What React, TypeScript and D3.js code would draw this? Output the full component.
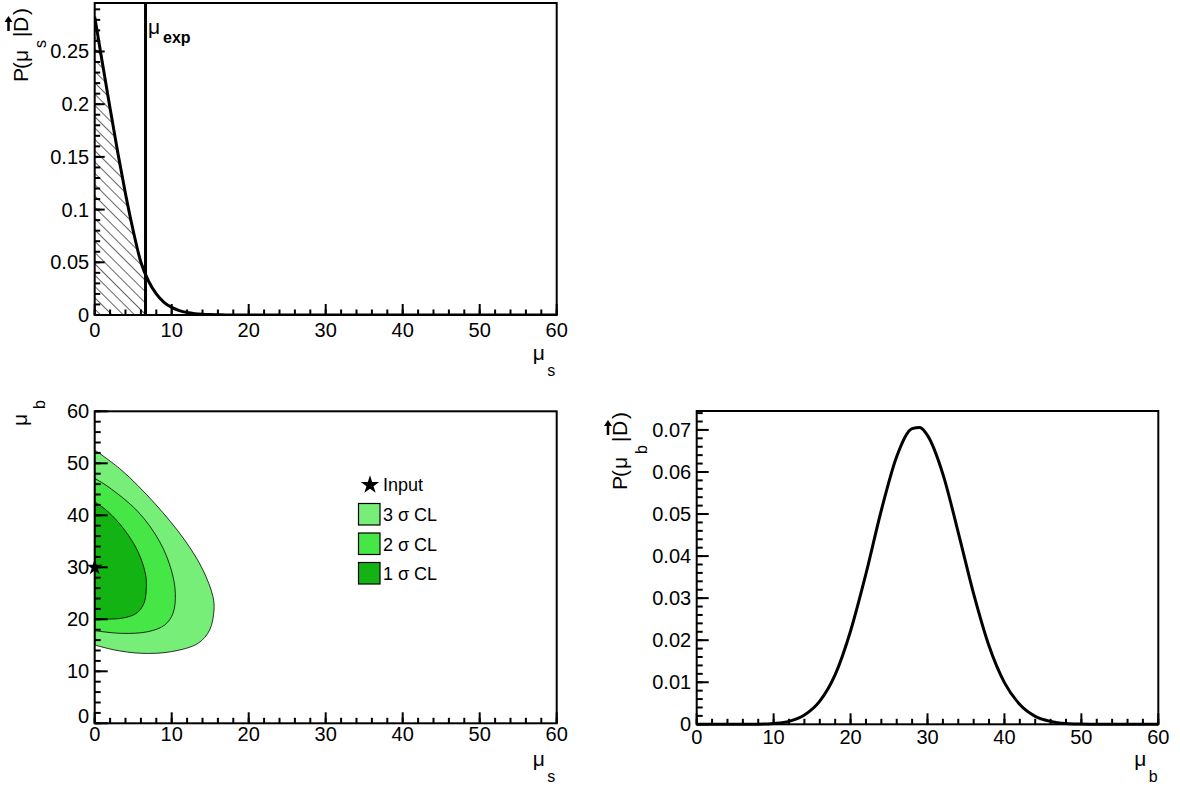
import React from "react";
import * as d3 from "d3";

// ---------- data ----------
const muSGrid = [0, 1, 2, 3, 4, 5, 6, 7, 8, 9, 10, 11, 12, 13, 14, 15, 16, 17, 18, 20, 25, 30, 40, 50, 60];
const postS = [0.283, 0.239, 0.196, 0.154, 0.115, 0.08, 0.05, 0.032, 0.02, 0.012, 0.0072, 0.0042, 0.0024, 0.0013, 0.0007, 0.0004, 0.0002, 0.0001, 0.00005, 0, 0, 0, 0, 0, 0];
const muExp = 6.6;

const muBGrid = [0, 8, 10, 12, 14, 16, 18, 20, 22, 24, 26, 28, 29, 30, 32, 34, 36, 38, 40, 42, 44, 46, 48, 50, 52, 56, 60];
const postB = [0, 0.00003, 0.0002, 0.0007, 0.0022, 0.0055, 0.0118, 0.0222, 0.0358, 0.0509, 0.0637, 0.0703, 0.0706, 0.0687, 0.0595, 0.0456, 0.031, 0.0186, 0.0099, 0.0047, 0.0019, 0.0007, 0.0002, 0.00005, 0, 0, 0];

// contours: [mu_s, mu_b]
const contour3 = [[0, 52.56], [3.46, 48.71], [7.79, 42.3], [11.68, 35.25], [14.06, 29.48], [15.36, 24.35], [15.49, 21.79], [14.93, 17.94], [13.42, 15.38], [9.95, 13.78], [6.06, 13.46], [2.59, 14.1], [0, 15.06]];
const contour2 = [[0, 47.11], [1.73, 45.51], [5.62, 40.7], [8.44, 34.93], [9.95, 29.48], [10.47, 24.99], [10.17, 21.15], [9.09, 18.9], [6.92, 17.62], [3.46, 17.3], [0, 17.81]];
const contour1 = [[0, 42.62], [1.73, 40.7], [3.89, 37.17], [5.62, 33.01], [6.58, 28.84], [6.71, 26.28], [6.4, 23.07], [5.41, 21.15], [3.46, 20.19], [0, 20.06]];
const inputPoint = [0, 30];

const xTickVals = [0, 10, 20, 30, 40, 50, 60];
const xTickLabels = ["0", "10", "20", "30", "40", "50", "60"];
const yTopVals = [0, 0.05, 0.1, 0.15, 0.2, 0.25];
const yTopLabels = ["0", "0.05", "0.1", "0.15", "0.2", "0.25"];
const yBLVals = [0, 10, 20, 30, 40, 50, 60];
const yBLLabels = ["0", "10", "20", "30", "40", "50", "60"];
const yBRVals = [0, 0.01, 0.02, 0.03, 0.04, 0.05, 0.06, 0.07];
const yBRLabels = ["0", "0.01", "0.02", "0.03", "0.04", "0.05", "0.06", "0.07"];

const legendLabels = ["3 σ CL", "2 σ CL", "1 σ CL"];
const legendColors = ["#77ee77", "#47e647", "#12b312"];

const FONT = "'Liberation Sans', Arial, Helvetica, sans-serif";
const FS = 20;

function Axes({ xs, ys, xMinor, yMinor, yVals, yLabels, xLabelDy, yLabelShift0 = 0, yMajLen = 12, yMinLen = 6 }: any) {
  const [x0, x1] = xs.range();
  const [yb, yt] = ys.range();
  return (
    <g>
      {xMinor.map((v: number, i: number) => (
        <line key={"xm" + i} x1={xs(v)} x2={xs(v)} y1={yb} y2={yb - 5.5} stroke="#000" strokeWidth={2} />
      ))}
      {xTickVals.map((v, i) => (
        <line key={"xM" + i} x1={xs(v)} x2={xs(v)} y1={yb} y2={yb - 11} stroke="#000" strokeWidth={2} />
      ))}
      {yMinor.map((v: number, i: number) => (
        <line key={"ym" + i} x1={x0} x2={x0 + yMinLen} y1={ys(v)} y2={ys(v)} stroke="#000" strokeWidth={2} />
      ))}
      {yVals.map((v: number, i: number) => (
        <line key={"yM" + i} x1={x0} x2={x0 + yMajLen} y1={ys(v)} y2={ys(v)} stroke="#000" strokeWidth={2} />
      ))}
      <rect x={x0} y={yt} width={x1 - x0} height={yb - yt} fill="none" stroke="#000" strokeWidth={2} />
      {xTickVals.map((v, i) => (
        <text key={"xl" + i} x={xs(v)} y={yb + xLabelDy} textAnchor="middle" fontFamily={FONT} fontSize={FS}>
          {xTickLabels[i]}
        </text>
      ))}
      {yVals.map((v: number, i: number) => (
        <text key={"yl" + i} x={x0 - 5.5} y={ys(v) + 7 - (i === 0 ? yLabelShift0 : 0)} textAnchor="end" fontFamily={FONT} fontSize={FS}>
          {yLabels[i]}
        </text>
      ))}
    </g>
  );
}

function XTitle({ right, baseline, sub }: any) {
  return (
    <g fontFamily={FONT}>
      <text x={right - 24} y={baseline} fontSize={21}>μ</text>
      <text x={right - 9.5} y={baseline + 16} fontSize={16}>{sub}</text>
    </g>
  );
}

function YTitle({ x, y, sub, o }: any) {
  return (
    <g transform={`translate(${x},${y}) rotate(-90)`} fontFamily={FONT} fontSize={21}>
      <text x={0} y={0}>P</text>
      <text x={o.paren} y={0}>(</text>
      <text x={o.mu} y={0}>μ</text>
      <text x={o.sub} y={o.subDy} fontSize={16}>{sub}</text>
      <text x={o.bar} y={0}>|</text>
      <text x={o.D} y={0}>D</text>
      <text x={o.close} y={0}>)</text>
      <line x1={o.D + 1} x2={o.D + 11} y1={-19} y2={-19} stroke="#000" strokeWidth={2.5} />
      <path d={`M${o.D + 10},${-23} L${o.D + 16},${-19} L${o.D + 10},${-15} Z`} fill="#000" />
    </g>
  );
}

export default function App() {
  // ---- top-left panel ----
  const xT = d3.scaleLinear().domain([0, 60]).range([94.7, 556.7]);
  const yT = d3.scaleLinear().domain([0, 0.296]).range([315, 3]);
  const sData = muSGrid.map((m, i) => [m, postS[i]] as [number, number]);
  const lineT = d3.line<[number, number]>().x(d => xT(d[0])).y(d => yT(d[1])).curve(d3.curveMonotoneX);
  const areaT = d3.area<[number, number]>().x(d => xT(d[0])).y0(yT(0)).y1(d => yT(d[1])).curve(d3.curveMonotoneX);

  // ---- bottom-left panel ----
  const xBL = d3.scaleLinear().domain([0, 60]).range([94.7, 556.7]);
  const yBL = d3.scaleLinear().domain([0, 60]).range([723.3, 411.3]);
  const cLine = d3.line<number[]>().x(d => xBL(d[0])).y(d => yBL(d[1])).curve(d3.curveCatmullRom);
  const contours = [contour3, contour2, contour1];

  // ---- bottom-right panel ----
  const xBR = d3.scaleLinear().domain([0, 60]).range([696.7, 1158.3]);
  const yBR = d3.scaleLinear().domain([0, 0.0745]).range([724.3, 411]);
  const bData = muBGrid.map((m, i) => [m, postB[i]] as [number, number]);
  const lineBR = d3.line<[number, number]>().x(d => xBR(d[0])).y(d => yBR(d[1])).curve(d3.curveMonotoneX);

  const xMinor = d3.range(0, 31).map(i => i * 2);
  const yMinorT = d3.range(0, 30).map(i => i * 0.01).filter(v => v <= 0.296);
  const yMinorBL = d3.range(0, 31).map(i => i * 2);
  const yMinorBR = d3.range(0, 38).map(i => i * 0.002).filter(v => v <= 0.0745);

  const star = d3.symbol(d3.symbolStar, 80)();
  const starL = d3.symbol(d3.symbolStar, 105)();

  return (
    <div style={{ position: "fixed", left: 0, top: 0 }}>
      <svg width={1180} height={787} style={{ display: "block", background: "#fff" }}>
        <defs>
          <pattern id="hatch" patternUnits="userSpaceOnUse" width={8} height={8} patternTransform="rotate(-45)">
            <line x1={0} y1={0} x2={0} y2={8} stroke="#000" strokeWidth={1.2} />
          </pattern>
          <clipPath id="clipExp">
            <rect x={xT(0)} y={yT.range()[1]} width={xT(muExp) - xT(0)} height={yT(0) - yT.range()[1]} />
          </clipPath>
          <clipPath id="clipT">
            <rect x={xT(0)} y={yT.range()[1]} width={xT(60) - xT(0)} height={yT(0) - yT.range()[1]} />
          </clipPath>
        </defs>
        <rect x={0} y={0} width={1180} height={787} fill="#fff" />

        {/* ---------- top-left ---------- */}
        <path d={areaT(sData) || ""} fill="url(#hatch)" clipPath="url(#clipExp)" />
        <path d={lineT(sData) || ""} fill="none" stroke="#000" strokeWidth={3} clipPath="url(#clipT)" />
        <line x1={xT(muExp)} x2={xT(muExp)} y1={yT(0)} y2={yT.range()[1]} stroke="#000" strokeWidth={3} />
        <Axes xs={xT} ys={yT} xMinor={xMinor} yMinor={yMinorT} yVals={yTopVals} yLabels={yTopLabels} xLabelDy={22} yMajLen={10} yMinLen={5.5} />
        <text x={148} y={34} fontFamily={FONT} fontSize={21}>μ</text>
        <text x={163} y={43} fontFamily={FONT} fontSize={16} fontWeight="bold">exp</text>
        <XTitle right={556.7} baseline={360} sub="s" />
        <YTitle x={27.5} y={82} sub="s" o={{ paren: 13, mu: 20, sub: 34, subDy: 18, bar: 45, D: 50, close: 67 }} />

        {/* ---------- bottom-left ---------- */}
        {contours.map((c, i) => (
          <path key={"c" + i} d={(cLine(c) || "") + "Z"} fill={legendColors[i]} stroke="#000" strokeWidth={0.8} />
        ))}
        <Axes xs={xBL} ys={yBL} xMinor={xMinor} yMinor={yMinorBL} yVals={yBLVals} yLabels={yBLLabels} xLabelDy={18} yLabelShift0={7} yMajLen={13} yMinLen={6} />
        <path d={star || ""} transform={`translate(${xBL(inputPoint[0])},${yBL(inputPoint[1])})`} fill="#000" />
        <XTitle right={556.7} baseline={766} sub="s" />
        <g fontFamily={FONT}>
          <text x={27} y={414} fontSize={21} transform="rotate(-90 27 414)" textAnchor="end">μ</text>
          <text x={45} y={400} fontSize={16} transform="rotate(-90 45 400)" textAnchor="end">b</text>
        </g>
        {/* legend */}
        <path d={starL || ""} transform="translate(370,485)" fill="#000" />
        <text x={383} y={491} fontFamily={FONT} fontSize={18}>Input</text>
        {legendLabels.map((l, i) => (
          <g key={"lg" + i}>
            <rect x={358.5} y={503.5 + i * 29.5} width={21.5} height={21.5} fill={legendColors[i]} stroke="#000" strokeWidth={1.2} />
            <text x={383} y={521 + i * 29.5} fontFamily={FONT} fontSize={18}>{l}</text>
          </g>
        ))}

        {/* ---------- bottom-right ---------- */}
        <path d={lineBR(bData) || ""} fill="none" stroke="#000" strokeWidth={3} />
        <Axes xs={xBR} ys={yBR} xMinor={xMinor} yMinor={yMinorBR} yVals={yBRVals} yLabels={yBRLabels} xLabelDy={20} yMajLen={12} yMinLen={6} />
        <XTitle right={1158.3} baseline={766} sub="b" />
        <YTitle x={627} y={490} sub="b" o={{ paren: 13, mu: 21, sub: 36, subDy: 20, bar: 48, D: 54, close: 71 }} />
      </svg>
    </div>
  );
}
